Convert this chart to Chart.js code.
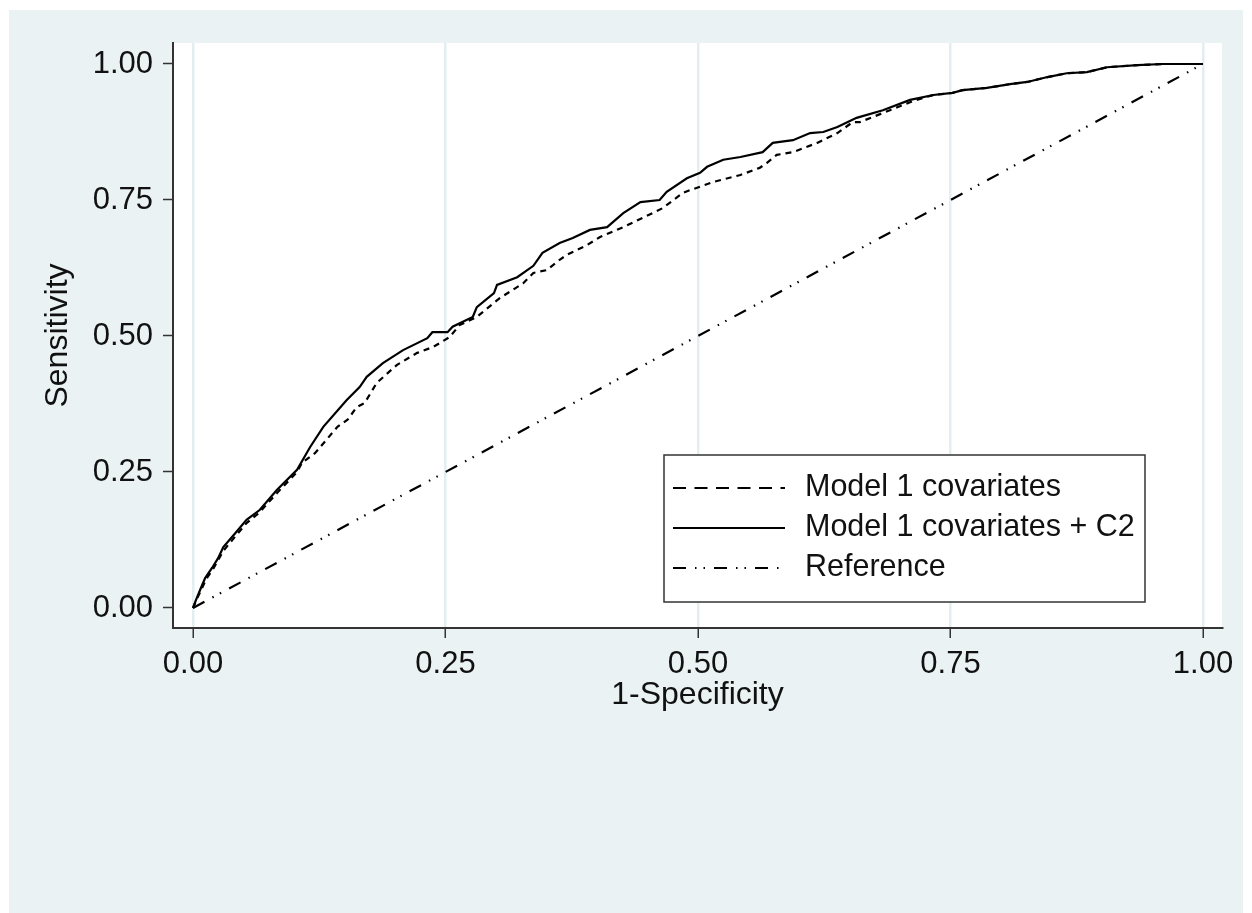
<!DOCTYPE html>
<html>
<head>
<meta charset="utf-8">
<title>ROC curves</title>
<script src="https://cdn.jsdelivr.net/npm/chart.js@4.4.1/dist/chart.umd.min.js"></script>
<style>
  html, body { margin: 0; padding: 0; background: #ffffff; }
  canvas { display: block; }
</style>
</head>
<body>
<canvas id="rocChart" width="1252" height="913"></canvas>
<script>
// axis ticks
const xTickValues = [0, 0.25, 0.5, 0.75, 1];
const yTickValues = [0, 0.25, 0.5, 0.75, 1];

// series names
const seriesLabels = ["Model 1 covariates", "Model 1 covariates + C2", "Reference"];

// Model 1 covariates (dashed)
const model1X = [0, .003, .008, .013, .020, .030, .042, .053, .066, .083, .103, .108, .121, .138, .143, .153, .162, .170, .182, .202,
  .222, .238, .254, .264, .281, .304, .327, .337, .350, .363, .370, .390, .403, .426, .465, .485, .492, .515, .542, .561,
  .568, .578, .594, .618, .638, .653, .660, .690, .713, .733, .752, .762, .786, .809, .826, .846, .865, .885, .905, .935, .960, 1];
const model1Y = [0, .013, .033, .053, .072, .105, .132, .156, .176, .211, .250, .267, .285, .322, .333, .346, .369, .377, .414, .447,
  .469, .480, .498, .520, .535, .570, .597, .616, .621, .640, .649, .667, .682, .700, .735, .763, .768, .783, .796, .809,
  .818, .833, .838, .855, .873, .893, .893, .915, .932, .943, .947, .952, .956, .963, .967, .976, .983, .985, .994, .998, 1, 1];

// Model 1 covariates + C2 (solid)
const model2X = [0, .003, .007, .012, .019, .025, .030, .042, .053, .066, .083, .103, .116, .129, .152, .165, .172, .188, .208, .232,
  .237, .252, .257, .277, .281, .298, .301, .321, .337, .346, .363, .376, .393, .410, .426, .443, .462, .469, .489, .502,
  .509, .525, .542, .564, .574, .594, .611, .624, .638, .657, .683, .710, .733, .752, .762, .786, .809, .826, .846, .865,
  .885, .905, .935, .960, 1];
const model2Y = [0, .015, .033, .055, .074, .092, .112, .138, .162, .180, .217, .254, .296, .333, .382, .406, .425, .450, .474, .496,
  .507, .507, .517, .535, .553, .579, .594, .608, .629, .653, .671, .680, .695, .700, .726, .746, .750, .765, .790, .800,
  .811, .824, .829, .838, .855, .860, .873, .875, .884, .901, .915, .934, .943, .947, .952, .956, .963, .967, .976, .983,
  .985, .994, .998, 1, 1];

// Reference diagonal
const refX = [0, 1];
const refY = [0, 1];

function toPoints(xs, ys) {
    return xs.map((x, i) => ({ x: x, y: ys[i] }));
}

const FONT = "'Liberation Sans', Arial, sans-serif";
const BG = "#eaf2f3";
const INK = "#111111";

// light outer region and white plot area
const backgroundPlugin = {
    id: "stataBackground",
    beforeDraw(chart) {
        const ctx = chart.ctx;
        const a = chart.chartArea;
        ctx.save();
        ctx.fillStyle = "#ffffff";
        ctx.fillRect(0, 0, chart.width, chart.height);
        ctx.fillStyle = BG;
        ctx.fillRect(9, 10, chart.width - 18, chart.height - 10);
        ctx.fillStyle = "#ffffff";
        ctx.fillRect(a.left, a.top, a.right - a.left, a.bottom - a.top);
        ctx.restore();
    }
};

// boxed legend in the lower right of the plot
const boxLegendPlugin = {
    id: "boxLegend",
    afterDraw(chart) {
        const ctx = chart.ctx;
        const a = chart.chartArea;
        const w = 481, h = 147;
        const left = a.right - 77 - w;
        const top = a.bottom - 26 - h;
        ctx.save();
        ctx.fillStyle = "#ffffff";
        ctx.fillRect(left, top, w, h);
        ctx.strokeStyle = "#333333";
        ctx.lineWidth = 1.5;
        ctx.strokeRect(left, top, w, h);
        ctx.font = "30.5px " + FONT;
        ctx.textBaseline = "middle";
        ctx.fillStyle = INK;
        chart.data.datasets.forEach((ds, i) => {
            const y = top + 33 + i * 40;
            ctx.beginPath();
            ctx.setLineDash(ds.legendDash || []);
            ctx.lineWidth = 2.2;
            ctx.strokeStyle = ds.borderColor;
            ctx.moveTo(left + 9, y);
            ctx.lineTo(left + 121, y);
            ctx.stroke();
            ctx.setLineDash([]);
            ctx.fillText(ds.label, left + 141, y);
        });
        ctx.restore();
    }
};

const ctx = document.getElementById("rocChart").getContext("2d");

new Chart(ctx, {
    type: "line",
    data: {
        datasets: [{
            label: seriesLabels[0],
            data: toPoints(model1X, model1Y),
            borderColor: "#000000",
            borderWidth: 2.2,
            borderDash: [6, 5],
            legendDash: [13, 8.5],
            pointRadius: 0,
            fill: false,
            tension: 0
        }, {
            label: seriesLabels[1],
            data: toPoints(model2X, model2Y),
            borderColor: "#000000",
            borderWidth: 2.2,
            legendDash: [],
            pointRadius: 0,
            fill: false,
            tension: 0
        }, {
            label: seriesLabels[2],
            data: toPoints(refX, refY),
            borderColor: "#000000",
            borderWidth: 2.2,
            borderDash: [13, 9, 1.5, 7, 1.5, 9],
            legendDash: [13, 9, 1.5, 7, 1.5, 9],
            pointRadius: 0,
            fill: false,
            tension: 0
        }]
    },
    options: {
        responsive: false,
        animation: false,
        devicePixelRatio: 1,
        layout: {
            padding: { left: 0, top: 43, right: 30, bottom: 195 }
        },
        plugins: {
            legend: { display: false },
            tooltip: { enabled: false }
        },
        scales: {
            x: {
                type: "linear",
                min: -0.0198,
                max: 1.0188,
                afterBuildTicks: s => { s.ticks = xTickValues.map(v => ({ value: v })); },
                afterFit: s => { s.height = 90; },
                ticks: {
                    autoSkip: false,
                    maxRotation: 0,
                    padding: 8,
                    color: INK,
                    font: { family: FONT, size: 31 },
                    callback: v => Number(v).toFixed(2)
                },
                grid: {
                    color: "#e4eef0",
                    lineWidth: 2.5,
                    tickColor: "#333333",
                    tickLength: 10,
                    tickWidth: 1.5
                },
                border: { display: true, color: "#333333", width: 2 },
                title: {
                    display: true,
                    text: "1-Specificity",
                    color: INK,
                    font: { family: FONT, size: 32 },
                    padding: { top: 0, bottom: 4 }
                }
            },
            y: {
                type: "linear",
                min: -0.0368,
                max: 1.0386,
                afterBuildTicks: s => { s.ticks = yTickValues.map(v => ({ value: v })); },
                afterFit: s => { s.width = 173; },
                ticks: {
                    autoSkip: false,
                    padding: 10,
                    color: INK,
                    font: { family: FONT, size: 31 },
                    callback: v => Number(v).toFixed(2)
                },
                grid: {
                    drawOnChartArea: false,
                    tickColor: "#333333",
                    tickLength: 10,
                    tickWidth: 1.5
                },
                border: { display: true, color: "#333333", width: 2 },
                title: {
                    display: true,
                    text: "Sensitivity",
                    color: INK,
                    font: { family: FONT, size: 32 },
                    padding: { top: 39, bottom: 0 }
                }
            }
        }
    },
    plugins: [backgroundPlugin, boxLegendPlugin]
});
</script>
</body>
</html>
